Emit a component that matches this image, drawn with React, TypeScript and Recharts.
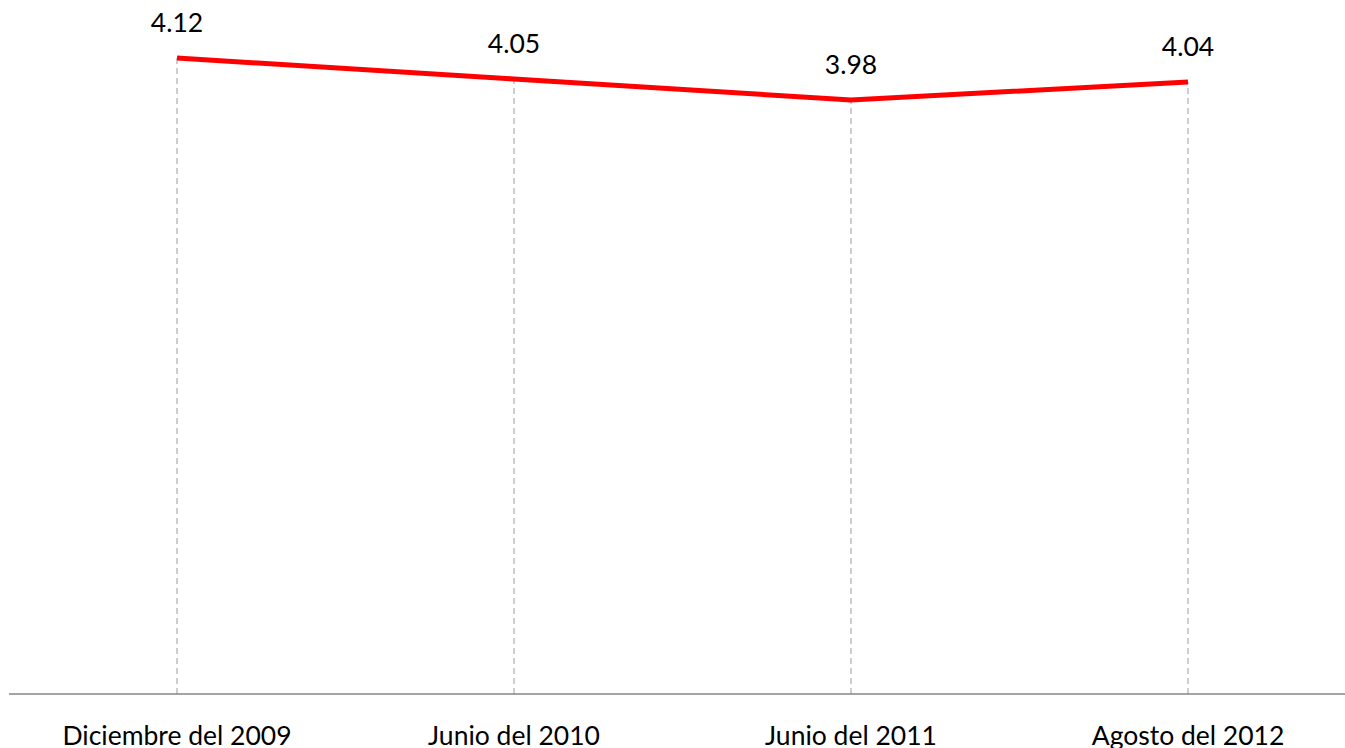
import React from "react";
import { LineChart, Line, XAxis, YAxis, ReferenceLine, LabelList } from "recharts";

const categories = ["Diciembre del 2009", "Junio del 2010", "Junio del 2011", "Agosto del 2012"];
const values = [4.12, 4.05, 3.98, 4.04];
const yDomain: [number, number] = [2, 4.3];

const data = categories.map((c, i) => ({ name: c, value: values[i] }));

const FONT = "Lato, 'Open Sans', sans-serif";

const Tick = (props: any) => {
  const { x, y, payload } = props;
  return (
    <text x={x} y={y + 43} textAnchor="middle" fill="#000" fontSize={26.5} fontFamily={FONT}>
      {payload.value}
    </text>
  );
};

const ValLabel = (props: any) => {
  const { x, y, value } = props;
  return (
    <text x={x} y={y - 26} textAnchor="middle" fill="#000" fontSize={26.5} fontFamily={FONT}>
      {Number(value).toFixed(2)}
    </text>
  );
};

export default function App() {
  return (
    <div style={{ position: "absolute", left: 0, top: 0 }}>
      <LineChart width={1345} height={748} data={data} margin={{ top: 4, right: 0, bottom: 0, left: 9 }}>
        <XAxis
          dataKey="name"
          scale="point"
          padding={{ left: 168, right: 157 }}
          axisLine={{ stroke: "#868686", strokeWidth: 1.5 }}
          tickLine={false}
          tick={<Tick />}
          height={54}
          interval={0}
        />
        <YAxis hide domain={yDomain} type="number" />
        {data.map((d) => (
          <ReferenceLine
            key={d.name}
            segment={[
              { x: d.name, y: yDomain[0] },
              { x: d.name, y: d.value },
            ]}
            stroke="#BFBFBF"
            strokeWidth={1.5}
            strokeDasharray="6 4"
            ifOverflow="visible"
          />
        ))}
        <Line
          dataKey="value"
          stroke="#FF0000"
          strokeWidth={5}
          dot={false}
          activeDot={false}
          isAnimationActive={false}
        >
          <LabelList dataKey="value" content={<ValLabel />} />
        </Line>
      </LineChart>
    </div>
  );
}
